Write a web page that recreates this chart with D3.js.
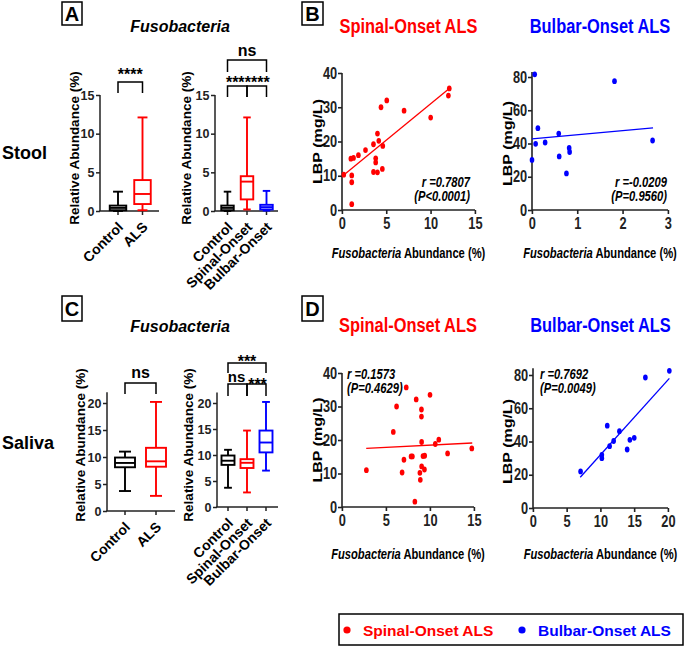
<!DOCTYPE html>
<html><head><meta charset="utf-8">
<script src="https://cdn.jsdelivr.net/npm/d3@7"></script>
<style>
body{margin:0;background:#fff}
svg{display:block}
text{font-family:"Liberation Sans",Arial,Helvetica,sans-serif;font-weight:bold}
</style>
</head><body>
<svg id="c" width="685" height="647"></svg>
<script>
// ---------------- DATA ----------------
const cats2 = ["Control", "ALS"];
const cats3 = ["Control", "Spinal-Onset", "Bulbar-Onset"];
// five-number summaries: [min, q1, median, q3, max]  (Relative Abundance %)
const stoolControl = [0.0, 0.1, 0.4, 0.7, 2.5];
const stoolALS     = [0.1, 0.9, 2.2, 4.0, 12.1];
const stoolSpinal  = [0.2, 1.5, 3.8, 4.5, 12.1];
const stoolBulbar  = [0.05, 0.2, 0.5, 0.8, 2.6];
const salivaControl = [3.7, 8.1, 8.9, 9.9, 11.0];
const salivaALS     = [2.8, 8.2, 9.2, 11.7, 20.2];
const salivaSpinal  = [2.8, 7.5, 8.5, 9.2, 14.7];
const salivaBulbar  = [7.0, 10.5, 12.4, 14.7, 20.2];
const stoolTicks  = [0, 5, 10, 15];
const salivaTicks = [0, 5, 10, 15, 20];

// Scatter: Fusobacteria abundance (%) vs LBP (mg/L)
const stoolSpinalAbund = [0.2,1.1,1.1,1.1,1.0,1.3,1.85,2.65,3.55,3.55,3.8,3.8,4.0,4.15,4.0,4.4,4.6,4.55,5.05,7.0,10.0,12.0,12.1];
const stoolSpinalLBP   = [10.3,10.1,8.1,1.7,15.0,15.2,16.0,17.5,19.2,11.1,15.1,13.9,22.3,20.2,11.0,30.0,18.7,12.0,32.0,29.0,27.0,33.4,35.5];
const stoolBulbarAbund = [0.06,1.82,0.13,0.59,0.08,0.29,2.66,0.6,0.82,0.83,0.0,0.76];
const stoolBulbarLBP   = [81.6,77.5,49.2,46.0,39.8,40.6,41.8,32.2,37.3,34.9,30.1,22.0];
const salivaSpinalAbund = [2.77,7.3,6.2,5.83,7.04,6.83,8.43,10.0,9.03,9.03,7.85,8.0,9.05,9.2,9.4,9.05,8.85,9.37,8.9,8.28,10.6,11.0,12.0,14.75];
const salivaSpinalLBP   = [11.0,35.7,30.0,22.4,14.1,10.3,32.1,33.5,29.1,27.0,15.1,15.1,19.4,15.2,15.3,12.1,10.2,11.2,8.1,1.6,18.8,20.1,16.0,17.5];
const salivaBulbarAbund = [7.05,10.2,10.2,11.0,11.35,11.95,12.8,13.95,14.35,15.0,16.65,20.2];
const salivaBulbarLBP   = [22.0,32.0,30.0,49.5,37.2,40.3,46.2,35.2,41.0,42.2,78.5,82.5];
// fitted regression line end points [abundance, LBP]
const fitStoolSpinal  = [[0.2, 10.2], [12.1, 35.5]];
const fitStoolBulbar  = [[0.0, 42.8], [2.67, 49.4]];
const fitSalivaSpinal = [[2.75, 17.5], [14.8, 19.1]];
const fitSalivaBulbar = [[7.0, 18.5], [20.2, 78.0]];
const statsText = {
  stoolSpinal: ["r =0.7807", "(P<0.0001)"],
  stoolBulbar: ["r =-0.0209", "(P=0.9560)"],
  salivaSpinal: ["r =0.1573", "(P=0.4629)"],
  salivaBulbar: ["r =0.7692", "(P=0.0049)"]
};
const spinalTicksX = [0, 5, 10, 15];
const bulbarStoolTicksX = [0, 1, 2, 3];
const bulbarSalivaTicksX = [0, 5, 10, 15, 20];
const lbpTicks40 = [0, 10, 20, 30, 40];
const lbpTicks80 = [0, 20, 40, 60, 80];

// ---------------- DRAW ----------------
const RED = "#ff0000", BLUE = "#0000ff", BLACK = "#000";
const AX = "#222";
const svg = d3.select("#c");
const fmt = d3.format("d");

function txt(g, x, y, s, size, opts = {}) {
  const t = g.append("text").attr("x", x).attr("y", y).attr("font-size", size)
    .attr("text-anchor", opts.anchor || "start").attr("fill", opts.fill || BLACK).text(s);
  if (opts.italic) t.attr("font-style", "italic");
  return t;
}

function panelLetter(x, y, w, h, L) {
  svg.append("rect").attr("x", x).attr("y", y).attr("width", w).attr("height", h)
    .attr("fill", "none").attr("stroke", BLACK).attr("stroke-width", 1.5);
  txt(svg, x + w / 2, y + h / 2 + 7, L, 20, { anchor: "middle" });
}

function boxPanel(cfg) {
  const g = svg.append("g");
  const top = cfg.ticks[cfg.ticks.length - 1];
  const y = d3.scaleLinear().domain([0, top]).range([cfg.yBase, cfg.yTopTick]);
  const x = d3.scalePoint().domain(cfg.cats).range([cfg.xFirst, cfg.xLast]);
  const ya = g.append("g").attr("transform", `translate(${cfg.axisX},0)`)
    .call(d3.axisLeft(y).tickValues(cfg.ticks).tickFormat(fmt).tickSize(4).tickPadding(1.5).tickSizeOuter(0));
  ya.select(".domain").remove();
  ya.selectAll("line").attr("stroke", AX).attr("stroke-width", 1.5);
  ya.selectAll("text").attr("font-size", 12.5).attr("font-family", null).attr("fill", AX);
  g.append("line").attr("x1", cfg.axisX).attr("x2", cfg.axisX)
    .attr("y1", y(0)).attr("y2", y(cfg.axisTop)).attr("stroke", AX).attr("stroke-width", 1.5);
  g.append("line").attr("x1", cfg.axisX - 0.75).attr("x2", cfg.axisEnd)
    .attr("y1", y(0)).attr("y2", y(0)).attr("stroke", AX).attr("stroke-width", 1.5);
  // category ticks + labels
  cfg.cats.forEach(c => {
    g.append("line").attr("x1", x(c)).attr("x2", x(c)).attr("y1", y(0)).attr("y2", y(0) + 4)
      .attr("stroke", AX).attr("stroke-width", 1.5);
    g.append("text").attr("transform", `translate(${x(c) + 6},${y(0) + 17}) rotate(-45)`)
      .attr("text-anchor", "end").attr("font-size", 14).text(c);
  });
  // boxes
  cfg.data.forEach((d, i) => {
    const cx = x(cfg.cats[i]), col = cfg.colors[i], w = cfg.boxW, cw = cfg.boxW * 0.6;
    const bg = g.append("g").attr("stroke", col).attr("stroke-width", 1.9).attr("fill", "none");
    bg.append("line").attr("x1", cx).attr("x2", cx).attr("y1", y(d[0])).attr("y2", y(d[1]));
    bg.append("line").attr("x1", cx).attr("x2", cx).attr("y1", y(d[3])).attr("y2", y(d[4]));
    bg.append("line").attr("x1", cx - cw / 2).attr("x2", cx + cw / 2).attr("y1", y(d[4])).attr("y2", y(d[4]));
    bg.append("line").attr("x1", cx - cw / 2).attr("x2", cx + cw / 2).attr("y1", y(d[0])).attr("y2", y(d[0]));
    bg.append("rect").attr("x", cx - w / 2).attr("y", y(d[3])).attr("width", w)
      .attr("height", Math.max(0.5, y(d[1]) - y(d[3]))).attr("fill", "#fff");
    bg.append("line").attr("x1", cx - w / 2).attr("x2", cx + w / 2).attr("y1", y(d[2])).attr("y2", y(d[2]));
  });
  // y title
  g.append("text").attr("transform", `translate(${cfg.titleX},${cfg.titleY}) rotate(-90)`)
    .attr("text-anchor", "middle").attr("font-size", 13.5).text("Relative Abundance (%)");
  // brackets
  cfg.brackets.forEach(b => {
    const x1 = x(cfg.cats[b[0]]), x2 = x(cfg.cats[b[1]]);
    g.append("path").attr("d", `M${x1},${b[3]}V${b[2]}H${x2}V${b[3]}`)
      .attr("fill", "none").attr("stroke", BLACK).attr("stroke-width", 1.5);
    txt(g, (x1 + x2) / 2 + (b[6] || 0), b[5], b[4], b[7] || 16, { anchor: "middle" });
  });
  return g;
}

// Row labels / titles
panelLetter(62, 2, 20, 23, "A");
panelLetter(62, 296, 20, 25, "C");
panelLetter(302, 2, 21, 23, "B");
panelLetter(302, 296, 21, 25, "D");
txt(svg, 180, 32, "Fusobacteria", 16, { anchor: "middle", italic: true });
txt(svg, 180, 332, "Fusobacteria", 16, { anchor: "middle", italic: true });
txt(svg, 2, 159, "Stool", 18);
txt(svg, 2, 449, "Saliva", 18);

// Panel A
boxPanel({ cats: cats2, data: [stoolControl, stoolALS], colors: [BLACK, RED], ticks: stoolTicks,
  yBase: 211, yTopTick: 95, axisTop: 15, axisX: 100, axisEnd: 159, xFirst: 118, xLast: 142.5, boxW: 16.5,
  titleX: 79, titleY: 148,
  brackets: [[0, 1, 82, 93, "****", 80]] });
boxPanel({ cats: cats3, data: [stoolControl, stoolSpinal, stoolBulbar], colors: [BLACK, RED, BLUE], ticks: stoolTicks,
  yBase: 211, yTopTick: 95, axisTop: 15, axisX: 215, axisEnd: 278, xFirst: 227.5, xLast: 266.5, boxW: 12.5,
  titleX: 191, titleY: 148,
  brackets: [[0, 2, 60, 72, "ns", 56], [0, 1, 86, 97, "***", 88, -2], [1, 2, 86, 97, "****", 88, 0.5]] });
// Panel C
boxPanel({ cats: cats2, data: [salivaControl, salivaALS], colors: [BLACK, RED], ticks: salivaTicks,
  yBase: 511, yTopTick: 403, axisTop: 22, axisX: 107, axisEnd: 175, xFirst: 125, xLast: 156, boxW: 20,
  titleX: 85, titleY: 445,
  brackets: [[0, 1, 383, 394, "ns", 378]] });
boxPanel({ cats: cats3, data: [salivaControl, salivaSpinal, salivaBulbar], colors: [BLACK, RED, BLUE], ticks: salivaTicks,
  yBase: 507, yTopTick: 403, axisTop: 22, axisX: 217, axisEnd: 278, xFirst: 228, xLast: 266, boxW: 13,
  titleX: 193, titleY: 445,
  brackets: [[0, 2, 363, 373, "***", 367], [0, 1, 384, 396, "ns", 382, -1, 15], [1, 2, 384, 396, "***", 390, 1]] });

// ---- Scatter panels (B, D) drawn in a horizontally condensed frame ----
const K = 0.8;
const gS = svg.append("g").attr("transform", `scale(${K},1)`);

function scatter(cfg) {
  const g = gS.append("g");
  const x = d3.scaleLinear().domain([cfg.xTicks[0], cfg.xTicks[cfg.xTicks.length - 1]]).range([cfg.x0 / K, cfg.x1 / K]);
  const y = d3.scaleLinear().domain([0, cfg.yTicks[cfg.yTicks.length - 1]]).range([cfg.y0, cfg.y1]);
  const ln = (x1, y1, x2, y2) => g.append("line").attr("x1", x1).attr("y1", y1).attr("x2", x2).attr("y2", y2)
    .attr("stroke", AX).attr("stroke-width", 1.6).attr("vector-effect", "non-scaling-stroke");
  ln(x.range()[0], y(0), x.range()[1], y(0));
  ln(x.range()[0], y(0), x.range()[0], y(cfg.yAxisTop));
  const xa = g.append("g").attr("transform", `translate(0,${y(0)})`)
    .call(d3.axisBottom(x).tickValues(cfg.xTicks).tickFormat(fmt).tickSize(4).tickPadding(4).tickSizeOuter(0));
  const yaa = g.append("g").attr("transform", `translate(${x.range()[0]},0)`)
    .call(d3.axisLeft(y).tickValues(cfg.yTicks).tickFormat(fmt).tickSize(4 / K).tickPadding(1).tickSizeOuter(0));
  [xa, yaa].forEach(a => {
    a.select(".domain").remove();
    a.selectAll("line").attr("stroke", AX).attr("stroke-width", 1.6).attr("vector-effect", "non-scaling-stroke");
    a.selectAll("text").attr("font-size", 16).attr("font-family", null).attr("fill", AX);
  });
  // regression line
  g.append("line").attr("x1", x(cfg.fit[0][0])).attr("y1", y(cfg.fit[0][1]))
    .attr("x2", x(cfg.fit[1][0])).attr("y2", y(cfg.fit[1][1]))
    .attr("stroke", cfg.color).attr("stroke-width", 1.3).attr("vector-effect", "non-scaling-stroke");
  // points
  g.selectAll("circle").data(cfg.xs.map((v, i) => [v, cfg.ys[i]])).join("circle")
    .attr("cx", d => x(d[0])).attr("cy", d => y(d[1])).attr("r", 2.9).attr("fill", cfg.color);
  // titles
  txt(g, (cfg.x0 + cfg.x1) / 2 / K, cfg.titleY, cfg.title, 20.5, { anchor: "middle", fill: cfg.color });
  const xt = g.append("text").attr("x", (cfg.x0 + cfg.x1) / 2 / K).attr("y", cfg.xTitleY)
    .attr("text-anchor", "middle").attr("font-size", 14);
  xt.append("tspan").attr("font-style", "italic").text("Fusobacteria");
  xt.append("tspan").text(" Abundance (%)");
  g.append("text").attr("transform", `translate(${cfg.yTitleX / K},${(cfg.y0 + cfg.y1) / 2}) rotate(-90)`)
    .attr("text-anchor", "middle").attr("font-size", 16).text("LBP (mg/L)");
  // stats
  txt(g, cfg.statX / K, cfg.statY, cfg.stats[0], 14, { anchor: cfg.statAnchor, italic: true });
  txt(g, cfg.statX / K, cfg.statY + 14, cfg.stats[1], 14, { anchor: cfg.statAnchor, italic: true });
}

scatter({ xs: stoolSpinalAbund, ys: stoolSpinalLBP, color: RED, fit: fitStoolSpinal,
  xTicks: spinalTicksX, yTicks: lbpTicks40, x0: 342, x1: 475, y0: 210, y1: 73, yAxisTop: 40,
  title: "Spinal-Onset ALS", titleY: 33, xTitleY: 258, yTitleX: 322,
  stats: statsText.stoolSpinal, statX: 470, statY: 187, statAnchor: "end" });
scatter({ xs: stoolBulbarAbund, ys: stoolBulbarLBP, color: BLUE, fit: fitStoolBulbar,
  xTicks: bulbarStoolTicksX, yTicks: lbpTicks80, x0: 532, x1: 668, y0: 210, y1: 77, yAxisTop: 83,
  title: "Bulbar-Onset ALS", titleY: 33, xTitleY: 258, yTitleX: 512,
  stats: statsText.stoolBulbar, statX: 667, statY: 187, statAnchor: "end" });
scatter({ xs: salivaSpinalAbund, ys: salivaSpinalLBP, color: RED, fit: fitSalivaSpinal,
  xTicks: spinalTicksX, yTicks: lbpTicks40, x0: 342, x1: 474, y0: 507, y1: 373, yAxisTop: 40,
  title: "Spinal-Onset ALS", titleY: 332, xTitleY: 559, yTitleX: 322,
  stats: statsText.salivaSpinal, statX: 347, statY: 379, statAnchor: "start" });
scatter({ xs: salivaBulbarAbund, ys: salivaBulbarLBP, color: BLUE, fit: fitSalivaBulbar,
  xTicks: bulbarSalivaTicksX, yTicks: lbpTicks80, x0: 533, x1: 668, y0: 508, y1: 375, yAxisTop: 84,
  title: "Bulbar-Onset ALS", titleY: 332, xTitleY: 559, yTitleX: 512,
  stats: statsText.salivaBulbar, statX: 540, statY: 379, statAnchor: "start" });

// ---- Legend ----
const legendItems = [["Spinal-Onset ALS", RED], ["Bulbar-Onset ALS", BLUE]];
const lg = svg.append("g");
lg.append("rect").attr("x", 339).attr("y", 614).attr("width", 344).attr("height", 31)
  .attr("fill", "none").attr("stroke", BLACK).attr("stroke-width", 1.5);
legendItems.forEach((it, i) => {
  const x0 = i === 0 ? 347 : 522;
  lg.append("circle").attr("cx", x0).attr("cy", 630).attr("r", 3.6).attr("fill", it[1]);
  txt(lg, x0 + 16, 636, it[0], 15.5, { fill: it[1] });
});
</script>
</body></html>
